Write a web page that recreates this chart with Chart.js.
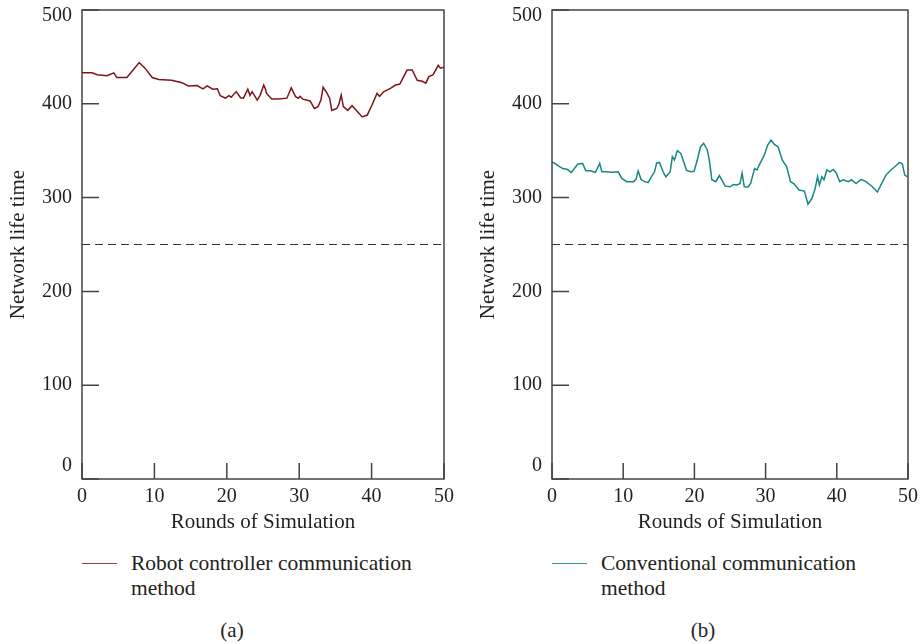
<!DOCTYPE html>
<html>
<head>
<meta charset="utf-8">
<script src="https://cdn.jsdelivr.net/npm/chart.js@4.4.1/dist/chart.umd.min.js"></script>
<style>
  body { margin: 0; background: #fff; }
  #page { position: relative; width: 924px; height: 644px; overflow: hidden; font-family: 'Liberation Serif', serif; color: #231f20; }
  canvas { position: absolute; top: 0; }
  .legend { position: absolute; font-size: 21.5px; line-height: 25px; }
  .legend .swatch { position: absolute; left: -49px; top: 12px; width: 35px; height: 0; border-top: 1.5px solid; }
  .caption { position: absolute; top: 618px; font-size: 21px; width: 60px; text-align: center; }
</style>
</head>
<body>
<div id="page">
  <canvas id="chartA" width="462" height="545" style="left:0;width:462px;height:545px"></canvas>
  <canvas id="chartB" width="454" height="545" style="left:470px;width:454px;height:545px"></canvas>
  <div class="legend" style="left:131px;top:551px"><span class="swatch" style="border-color:#a33a3a"></span>Robot controller communication<br>method</div>
  <div class="legend" style="left:601px;top:551px"><span class="swatch" style="border-color:#2a9a94"></span>Conventional communication<br>method</div>
  <div class="caption" style="left:202px">(a)</div>
  <div class="caption" style="left:673px">(b)</div>
</div>
<script>
const xTicks = [0, 10, 20, 30, 40, 50];
const yTicks = [0, 100, 200, 300, 400, 500];
const threshold = 250;

// robot controller method (a)
const robotRounds = [0, 1.4, 2.1, 3.45, 4.4, 4.8, 6.2, 7.9, 8.7, 9.7,
  10.6, 12.4, 13.8, 14.7, 15.9, 16.7, 17.3, 18.05, 18.7, 19.1,
  19.8, 20.3, 20.6, 21.3, 21.9, 22.3, 22.9, 23.2, 23.5, 24.2,
  24.6, 25.1, 25.3, 25.5, 26.2, 27.1, 28.3, 28.9, 29.5, 29.9,
  30.1, 30.5, 31.5, 32.1, 32.6, 33.0, 33.3, 33.8, 34.2, 34.5,
  35.2, 35.5, 35.8, 36.1, 36.7, 37.3, 38.0, 38.7, 39.4, 40.05,
  40.75, 41.1, 41.7, 42.6, 43.3, 43.9, 44.9, 45.6, 46.3, 47.0,
  47.5, 47.9, 48.5, 49.2, 49.5, 50];
const robotLife = [433, 433, 431, 430, 433, 428, 428, 444, 438, 428,
  426, 425, 422.5, 419, 419.5, 416, 419, 415.5, 416, 408.6,
  406, 408.6, 407, 413, 406.5, 406, 415.5, 409, 413, 404,
  409, 420, 416.5, 411, 405, 405, 406, 417, 407.6, 406,
  408, 405, 403, 395, 397, 404, 417.6, 412, 406, 393,
  395, 400, 409.4, 397, 393, 398, 392, 386, 388, 398.7,
  411, 408, 413, 416.5, 420, 421, 436, 436, 425, 424,
  422, 429, 431, 441, 438, 439];

// conventional method (b)
const convRounds = [0, 0.4, 0.85, 1.5, 2.2, 2.7, 3.6, 4.3, 4.75, 5.4,
  6.1, 6.7, 7.0, 7.7, 8.4, 9.3, 9.8, 10.5, 11.45, 11.8,
  12.1, 12.5, 13.0, 13.5, 13.95, 14.4, 14.7, 15.1, 15.6, 16.0,
  16.6, 16.9, 17.2, 17.6, 18.1, 18.5, 18.9, 19.5, 19.95, 20.4,
  20.85, 21.3, 21.8, 22.1, 22.45, 23.0, 23.5, 23.85, 24.3, 25.0,
  25.5, 26.0, 26.4, 26.7, 27.0, 27.5, 27.9, 28.45, 28.8, 29.15,
  29.8, 30.3, 30.75, 31.2, 31.75, 32.35, 32.95, 33.5, 33.95, 34.7,
  35.45, 35.95, 36.5, 36.95, 37.3, 37.55, 37.9, 38.2, 38.6, 39.05,
  39.5, 39.95, 40.4, 40.9, 41.6, 42.05, 42.7, 43.4, 44.1, 45.0,
  45.7, 46.2, 46.9, 47.6, 48.3, 48.8, 49.2, 49.55, 49.9];
const convLife = [338, 336.5, 334, 331, 330, 326.6, 335.5, 336.5, 328.5, 328.5,
  327, 336.5, 327.5, 327.5, 327, 327.5, 320.5, 317, 317, 319.5,
  328.5, 319.5, 317, 316, 322, 327.5, 337, 337.5, 327.5, 322,
  327.5, 343.6, 340, 350, 347, 338, 329, 327.5, 328, 340,
  354, 358, 351, 340, 319, 317, 323.5, 319, 312.5, 311.5,
  314, 313.5, 315, 326, 311.6, 311, 315, 331, 329.5, 335.5,
  345, 356, 361.4, 357, 354, 340, 333, 317, 315, 308,
  307, 293, 299, 309.5, 322.3, 313.5, 322.3, 319, 329.5, 327.5,
  330, 326, 317, 319, 317, 319, 315, 319.5, 317, 311.6,
  306, 313.5, 324, 329.5, 334, 337.5, 336, 324, 322];

Chart.defaults.font.family = "'Liberation Serif', serif";
Chart.defaults.color = '#231f20';

const framePlugin = {
  id: 'frame',
  afterDatasetsDraw(chart) {
    const { ctx, chartArea: a, scales } = chart;
    ctx.save();
    ctx.strokeStyle = '#444';
    ctx.lineWidth = 1.5;
    ctx.strokeRect(a.left, a.top, a.right - a.left, a.bottom - a.top);
    ctx.beginPath();
    xTicks.forEach(v => {
      const px = scales.x.getPixelForValue(v);
      ctx.moveTo(px, a.bottom);
      ctx.lineTo(px, a.bottom - 16);
    });
    yTicks.forEach(v => {
      const py = scales.y.getPixelForValue(v);
      ctx.moveTo(a.left, py);
      ctx.lineTo(a.left + 17, py);
    });
    ctx.stroke();
    // y labels, end ones pulled inside the frame
    ctx.fillStyle = '#231f20';
    ctx.font = "20px 'Liberation Serif', serif";
    ctx.textAlign = 'right';
    ctx.textBaseline = 'middle';
    yTicks.forEach(v => {
      let py = scales.y.getPixelForValue(v);
      py = Math.min(Math.max(py, a.top + 6), a.bottom - 13);
      ctx.fillText(String(v), a.left - 10, py);
    });
    ctx.restore();
  }
};

function makeChart(id, rounds, life, color, padRight) {
  const pts = rounds.map((r, i) => ({ x: r, y: life[i] }));
  return new Chart(document.getElementById(id), {
    type: 'line',
    data: {
      datasets: [{
        data: pts,
        borderColor: color,
        borderWidth: 1.5,
        pointRadius: 0,
        tension: 0
      }, {
        data: [{ x: xTicks[0], y: threshold }, { x: xTicks[xTicks.length - 1], y: threshold }],
        borderColor: '#333',
        borderWidth: 1,
        borderDash: [8, 5],
        pointRadius: 0
      }]
    },
    options: {
      responsive: false,
      animation: false,
      layout: { padding: { top: 10, right: padRight, left: 0, bottom: 0 } },
      plugins: { legend: { display: false }, tooltip: { enabled: false } },
      scales: {
        x: {
          type: 'linear',
          min: 0,
          max: 50,
          afterBuildTicks: s => { s.ticks = xTicks.map(v => ({ value: v })); },
          afterFit: s => { s.height = 66; },
          grid: { display: false, drawTicks: false },
          border: { display: false },
          ticks: { padding: 6, font: { size: 20 }, color: '#231f20' },
          title: { display: true, text: 'Rounds of Simulation', font: { size: 21 }, padding: { top: 0, bottom: 10 }, color: '#231f20' }
        },
        y: {
          min: 0,
          max: 500,
          afterFit: s => { s.width = 82; },
          grid: { display: false, drawTicks: false },
          border: { display: false },
          ticks: { display: false, stepSize: 100 },
          title: { display: true, text: 'Network life time', font: { size: 21 }, padding: { top: 6, bottom: 0 }, color: '#231f20' }
        }
      }
    },
    plugins: [framePlugin]
  });
}

makeChart('chartA', robotRounds, robotLife, '#7d1518', 18);
makeChart('chartB', convRounds, convLife, '#178783', 10);
</script>
</body>
</html>
